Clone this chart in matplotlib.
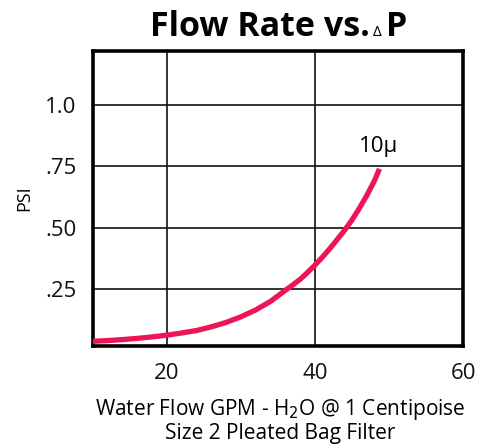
import matplotlib.pyplot as plt

# curve (GPM vs PSI)
flow_gpm = [10, 12, 14, 16, 18, 20, 22, 24, 26, 28, 30, 32, 34, 36, 37, 38, 39, 40,
            41, 42, 43, 44, 45, 46, 47, 48, 48.7]
psi = [0.037, 0.04, 0.044, 0.049, 0.055, 0.062, 0.071, 0.081, 0.096, 0.114, 0.137,
       0.165, 0.2, 0.245, 0.267, 0.29, 0.318, 0.348, 0.38, 0.415, 0.452, 0.49, 0.532,
       0.58, 0.632, 0.69, 0.74]

x_ticks = [20, 40, 60]
y_ticks = [0.25, 0.50, 0.75, 1.0]
y_ticklabels = [".25", ".50", ".75", "1.0"]

plt.rcParams["font.family"] = ["Open Sans", "DejaVu Sans"]

fig = plt.figure(figsize=(4.81, 4.47), dpi=100)
ax = fig.add_axes([0.193, 0.226, 0.770, 0.660])

ax.plot(flow_gpm, psi, color="#ee1556", lw=3.8, solid_capstyle="butt",
        solid_joinstyle="round", zorder=3)

ax.set_xlim(10, 60)
ax.set_ylim(0.018, 1.22)
ax.set_xticks(x_ticks)
ax.set_yticks(y_ticks)
ax.set_yticklabels(y_ticklabels)
ax.tick_params(length=0, labelsize=16, pad=12, colors="#111111")
ax.grid(True, color="#111111", lw=1.2)
ax.set_axisbelow(True)
for s in ax.spines.values():
    s.set_linewidth(2.6)
    s.set_color("black")

ax.text(48.6, 0.81, "10\u03bc", fontsize=16, ha="center", va="baseline")

ax.set_ylabel("PSI", fontsize=13, labelpad=8)
fig.text(0.583, 0.083, "Water Flow GPM - H$_2$O @ 1 Centipoise",
         fontsize=15, ha="center", va="center")
fig.text(0.583, 0.031, "Size 2 Pleated Bag Filter", fontsize=15, ha="center", va="center")

fig.text(0.768, 0.919, "Flow Rate vs.", fontsize=24.5, fontweight="bold",
         ha="right", va="baseline")
fig.text(0.774, 0.919, "\u0394", fontsize=11, ha="left", va="baseline")
fig.text(0.803, 0.919, "P", fontsize=24.5, fontweight="bold", ha="left", va="baseline")

fig.savefig("out.png", dpi=100)
